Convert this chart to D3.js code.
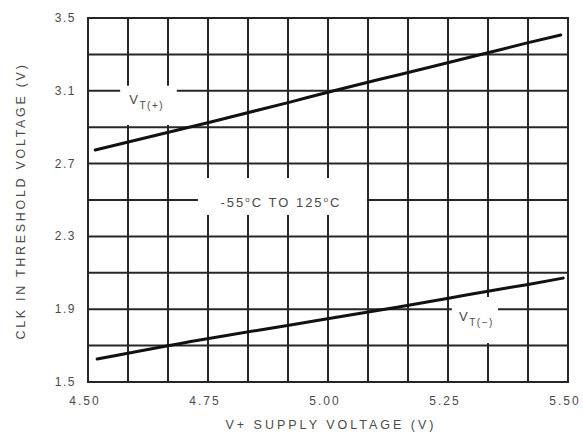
<!DOCTYPE html>
<html>
<head>
<meta charset="utf-8">
<script src="https://cdn.jsdelivr.net/npm/d3@7"></script>
<style>
  html, body { margin: 0; padding: 0; background: #fff; }
  svg { display: block; }
  text { font-family: "Liberation Sans", Arial, sans-serif; }
</style>
</head>
<body>
<svg id="chart" width="583" height="440"></svg>
<script>
// ---- data ----
const vtPlusX  = [4.515, 4.758, 4.921, 5.004, 5.150, 5.329, 5.413, 5.485];
const vtPlusY  = [2.775, 2.930, 3.038, 3.095, 3.190, 3.306, 3.362, 3.407];
const vtMinusX = [4.519, 4.733, 4.925, 5.150, 5.254, 5.333, 5.417, 5.490];
const vtMinusY = [1.626, 1.731, 1.815, 1.914, 1.962, 1.999, 2.036, 2.071];
const xTicks = [4.50, 4.75, 5.00, 5.25, 5.50];
const yTicks = [1.5, 1.9, 2.3, 2.7, 3.1, 3.5];
const xTitle = "V+ SUPPLY VOLTAGE (V)";
const yTitle = "CLK IN THRESHOLD VOLTAGE (V)";

// ---- layout ----
const svg = d3.select("#chart");
const L = 88, R = 568, T = 18, B = 382;
const x = d3.scaleLinear().domain([4.5, 5.5]).range([L, R]);
const y = d3.scaleLinear().domain([1.5, 3.5]).range([B, T]);

const gridX = d3.range(13).map(i => 4.5 + i / 12);
const gridY = d3.range(11).map(j => 1.5 + j * 0.2);

const gridColor = "#262626";
const textColor = "#4a4a4a";

const g = svg.append("g");

// grid
g.selectAll("line.vx").data(gridX).join("line").attr("class", "vx")
  .attr("x1", d => x(d)).attr("x2", d => x(d))
  .attr("y1", y(1.5) + 1).attr("y2", y(3.5) - 1)
  .attr("stroke", gridColor).attr("stroke-width", 2);
g.selectAll("line.hy").data(gridY).join("line").attr("class", "hy")
  .attr("y1", d => y(d)).attr("y2", d => y(d))
  .attr("x1", x(4.5) - 1).attr("x2", x(5.5) + 1)
  .attr("stroke", gridColor).attr("stroke-width", 2);

// white boxes behind annotations
function box(x0, x1, y0, y1) {
  g.append("rect")
    .attr("x", x(x0)).attr("y", y(y1))
    .attr("width", x(x1) - x(x0)).attr("height", y(y0) - y(y1))
    .attr("fill", "#fff");
}
box(4.567, 4.685, 2.912, 3.128);   // V T(+)
box(4.729, 5.081, 2.418, 2.621);   // temperature range
box(5.258, 5.354, 1.714, 1.967);   // V T(-)

// data lines
const line = d3.line().x(d => x(d[0])).y(d => y(d[1])).curve(d3.curveMonotoneX);
const series = [d3.zip(vtPlusX, vtPlusY), d3.zip(vtMinusX, vtMinusY)];
g.selectAll("path.s").data(series).join("path").attr("class", "s")
  .attr("d", line).attr("fill", "none")
  .attr("stroke", "#111").attr("stroke-width", 3).attr("stroke-linecap", "round");

// annotations
function vlabel(xv, yv, sub) {
  const t = g.append("text").attr("x", x(xv)).attr("y", y(yv))
    .attr("fill", textColor).attr("font-size", 13).attr("letter-spacing", 1.5);
  t.append("tspan").text("V");
  t.append("tspan").attr("dy", 5).attr("font-size", 10).text(sub);
}
vlabel(4.586, 3.025, "T(+)");
vlabel(5.273, 1.833, "T(\u2212)");

const rl = g.append("text").attr("x", x(4.902)).attr("y", y(2.462))
  .attr("text-anchor", "middle").attr("fill", textColor)
  .attr("font-size", 13).attr("letter-spacing", 2);
rl.append("tspan").text("-55");
rl.append("tspan").attr("dy", -5).attr("font-size", 8).text("o");
rl.append("tspan").attr("dy", 5).text("C TO 125");
rl.append("tspan").attr("dy", -5).attr("font-size", 8).text("o");
rl.append("tspan").attr("dy", 5).text("C");

// tick labels
const fx = d3.format(".2f"), fy = d3.format(".1f");
g.selectAll("text.xt").data(xTicks).join("text").attr("class", "xt")
  .attr("x", d => x(d) - 3).attr("y", 405)
  .attr("text-anchor", "middle").attr("fill", textColor)
  .attr("font-size", 12).attr("letter-spacing", 2)
  .text(d => fx(d));
g.selectAll("text.yt").data(yTicks).join("text").attr("class", "yt")
  .attr("x", 76).attr("y", d => y(d) + 4)
  .attr("text-anchor", "end").attr("fill", textColor)
  .attr("font-size", 12).attr("letter-spacing", 1.5)
  .text(d => fy(d));

// axis titles
svg.append("text").attr("x", 331).attr("y", 429)
  .attr("text-anchor", "middle").attr("fill", textColor)
  .attr("font-size", 12.5).attr("letter-spacing", 3)
  .text(xTitle);
svg.append("text").attr("transform", "translate(25,201) rotate(-90)")
  .attr("text-anchor", "middle").attr("fill", textColor)
  .attr("font-size", 12.5).attr("letter-spacing", 2.7)
  .text(yTitle);
</script>
</body>
</html>
